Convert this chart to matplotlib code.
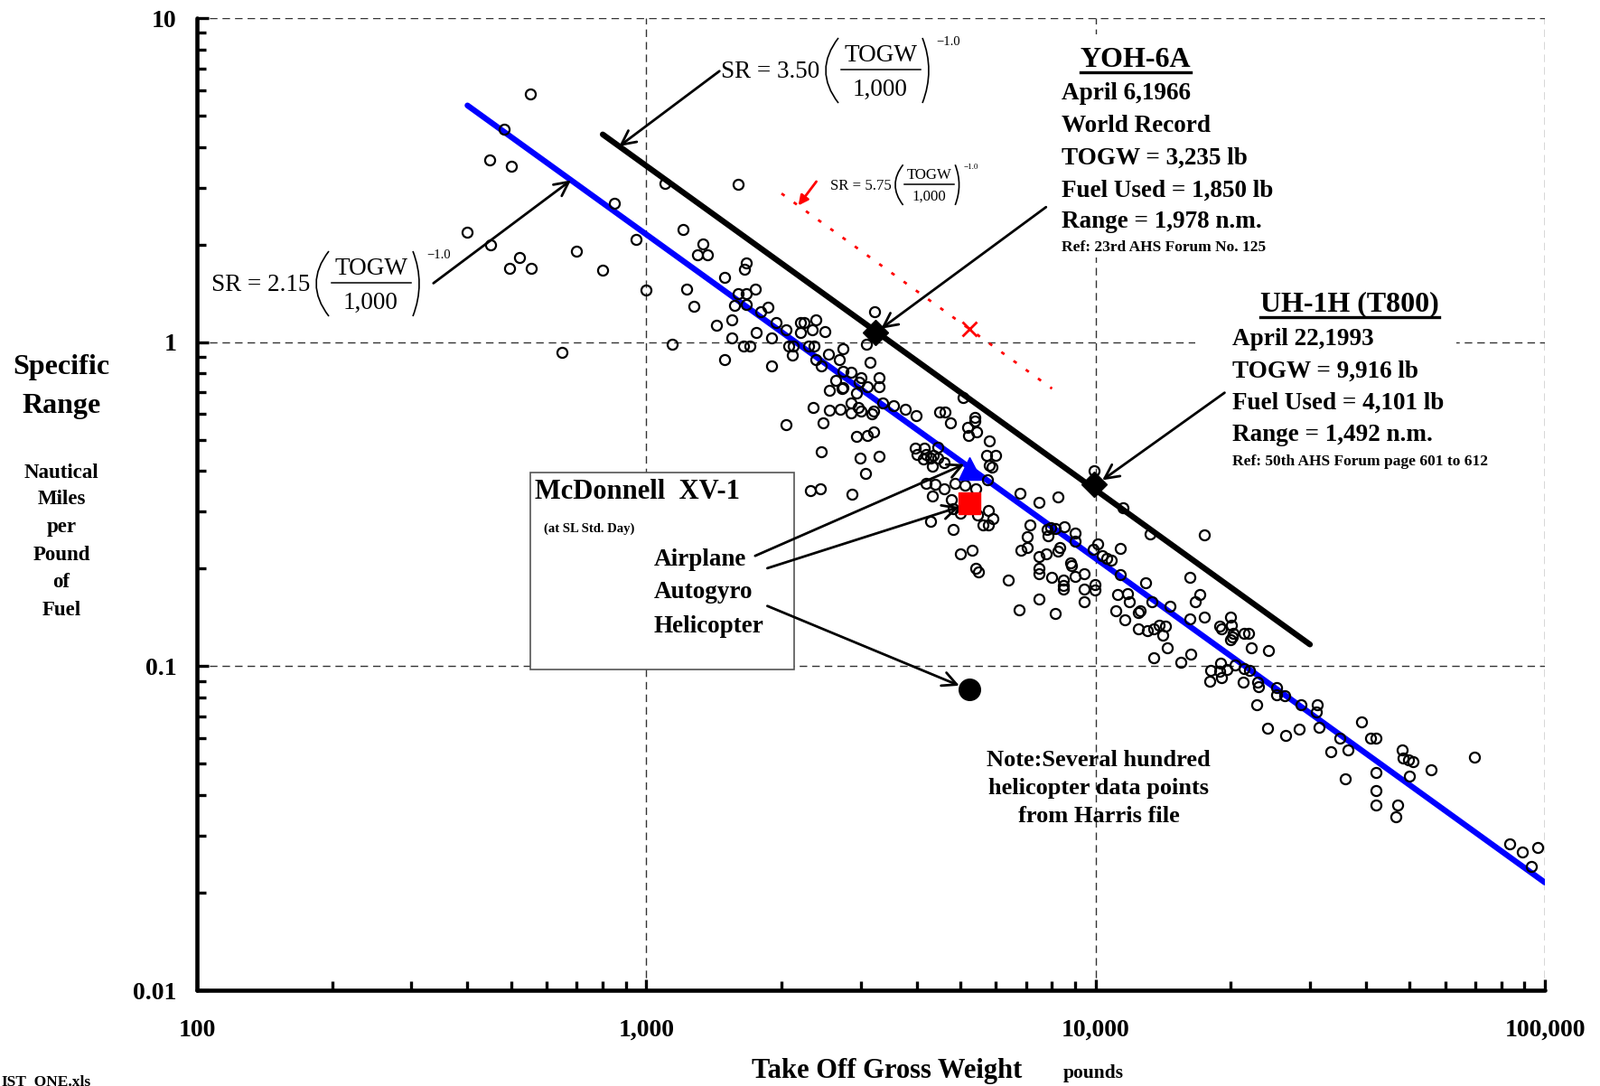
import numpy as np
import matplotlib
matplotlib.use("Agg")
import matplotlib.pyplot as plt
from matplotlib.ticker import LogLocator, NullFormatter
from matplotlib.patches import Rectangle, PathPatch
from matplotlib.path import Path
from matplotlib.lines import Line2D

plt.rcParams['font.family'] = ['Liberation Serif', 'DejaVu Serif']

# Harris file helicopter data: take off gross weight (lb), specific range (n.m./lb)
heli_togw = [553, 482, 449, 500, 1100, 1600, 849, 400, 451, 1208,
             949, 1339, 1298, 1371, 700, 521, 496, 555, 800, 1667,
             1656, 1496, 1000, 1230, 1278, 1600, 1670, 1749, 1574, 1670,
             1795, 1866, 1550, 1432, 1949, 2046, 2204, 2246, 2387, 2200,
             2344, 1754, 1550, 1901, 1144, 1648, 1700, 2078, 2127, 2117,
             2299, 2358, 649, 1496, 1900, 2387, 3225, 2502, 3094, 2743,
             2547, 2693, 2455, 3144, 2743, 2852, 3009, 3302, 2640, 2743,
             2973, 3105, 3302, 2553, 2723, 2942, 3354, 3556, 3765, 3986,
             2350, 2559, 2703, 2852, 2852, 2965, 3009, 3203, 3178, 2046,
             2472, 2942, 3105, 3203, 2455, 2991, 3302, 3079, 2322, 2444,
             2865, 5073, 4498, 4617, 4747, 5395, 5380, 5191, 5428, 5207,
             5802, 5712, 5984, 5802, 5890, 5739, 6799, 4463, 3963, 4150,
             4006, 4197, 4295, 4360, 4463, 4603, 4325, 4131, 4197, 4393,
             4603, 4857, 5126, 4341, 5411, 4784, 4817, 5012, 5781, 5916,
             5623, 5760, 5453, 4295, 4827, 5012, 5311, 5411, 5495, 7482,
             8238, 7145, 7038, 6821, 7056, 7812, 7958, 8128, 7836, 8531,
             9008, 9008, 7482, 7776, 8238, 8337, 8800, 8850, 7482, 7482,
             7987, 8470, 8470, 8490, 9008, 9433, 9433, 9433, 9960, 9960,
             6383, 7482, 6761, 8128, 10110, 9880, 10340, 10590, 10840, 11350,
             11350, 11490, 9910, 13200, 17480, 11180, 11800, 11890, 11090, 11620,
             12450, 12940, 13350, 12550, 12450, 13050, 13450, 13880, 14310, 14090,
             14420, 14640, 16190, 17090, 16700, 16190, 17480, 18890, 19940, 20090,
             20250, 19940, 21370, 21880, 22220, 19040, 20180, 24290, 13450, 15460,
             16320, 18980, 18040, 18890, 19630, 19040, 17980, 20400, 21370, 22040,
             21300, 22910, 23090, 22810, 25320, 26330, 28660, 31190, 30960, 31440,
             24180, 26450, 28430, 34990, 36390, 33430, 39140, 40880, 42020, 42020,
             36010, 42020, 41990, 46980, 46610, 48080, 48280, 49770, 50930, 49930,
             55900, 69600, 83500, 89130, 96250, 93330, 25320]
heli_sr = [5.84, 4.54, 3.65, 3.50, 3.09, 3.07, 2.69, 2.19, 1.99, 2.23,
           2.07, 2.01, 1.86, 1.86, 1.91, 1.83, 1.69, 1.69, 1.67, 1.75,
           1.68, 1.58, 1.45, 1.46, 1.29, 1.41, 1.41, 1.46, 1.30, 1.31,
           1.24, 1.28, 1.17, 1.13, 1.15, 1.09, 1.15, 1.15, 1.17, 1.07,
           1.09, 1.07, 1.03, 1.03, 0.987, 0.972, 0.97, 0.972, 0.972, 0.912,
           0.972, 0.972, 0.931, 0.883, 0.846, 0.883, 1.24, 1.075, 0.983, 0.952,
           0.916, 0.883, 0.846, 0.864, 0.810, 0.805, 0.776, 0.776, 0.760, 0.724,
           0.752, 0.728, 0.728, 0.708, 0.721, 0.698, 0.650, 0.638, 0.621, 0.594,
           0.630, 0.617, 0.622, 0.648, 0.603, 0.627, 0.614, 0.614, 0.601, 0.555,
           0.564, 0.512, 0.515, 0.528, 0.460, 0.4375, 0.445, 0.394, 0.348, 0.352,
           0.340, 0.673, 0.610, 0.610, 0.565, 0.585, 0.569, 0.546, 0.528, 0.515,
           0.496, 0.448, 0.448, 0.417, 0.411, 0.375, 0.342, 0.475, 0.470, 0.470,
           0.450, 0.450, 0.440, 0.448, 0.440, 0.424, 0.415, 0.436, 0.367, 0.365,
           0.352, 0.367, 0.363, 0.335, 0.352, 0.326, 0.306, 0.296, 0.303, 0.286,
           0.272, 0.272, 0.293, 0.280, 0.265, 0.222, 0.228, 0.200, 0.196, 0.320,
           0.332, 0.272, 0.251, 0.228, 0.233, 0.264, 0.268, 0.266, 0.252, 0.269,
           0.258, 0.243, 0.218, 0.222, 0.227, 0.232, 0.208, 0.204, 0.200, 0.193,
           0.188, 0.185, 0.177, 0.173, 0.189, 0.193, 0.173, 0.158, 0.179, 0.172,
           0.184, 0.161, 0.149, 0.145, 0.239, 0.229, 0.220, 0.215, 0.213, 0.231,
           0.192, 0.309, 0.400, 0.256, 0.255, 0.166, 0.168, 0.158, 0.148, 0.139,
           0.146, 0.181, 0.158, 0.148, 0.130, 0.129, 0.130, 0.134, 0.133, 0.125,
           0.114, 0.153, 0.188, 0.166, 0.158, 0.140, 0.142, 0.133, 0.142, 0.134,
           0.126, 0.121, 0.126, 0.126, 0.114, 0.130, 0.123, 0.112, 0.106, 0.103,
           0.109, 0.102, 0.0968, 0.0964, 0.0974, 0.0923, 0.0898, 0.101, 0.0985, 0.0968,
           0.0894, 0.0894, 0.0866, 0.0758, 0.0857, 0.0809, 0.0758, 0.0761, 0.0722, 0.0649,
           0.0642, 0.0612, 0.0639, 0.0601, 0.0553, 0.0544, 0.0674, 0.0601, 0.0601, 0.0470,
           0.0448, 0.0414, 0.0373, 0.0373, 0.0343, 0.0553, 0.0520, 0.0513, 0.0507, 0.0458,
           0.0479, 0.0524, 0.0283, 0.0267, 0.0275, 0.0241, 0.0818]

# trend lines SR = k * (TOGW/1000)^-1.0
fit_k = [2.15, 3.50, 5.75]
fit_lo = [400, 800, 2000]
fit_hi = [100000, 30000, 8000]

# record flights (YOH-6A, UH-1H T800)
rec_togw = [3235, 9916]
rec_fuel = [1850, 4101]
rec_range = [1978, 1492]

# McDonnell XV-1 at SL std day
xv1_togw = 5250
xv1_sr = [0.408, 0.319, 0.0848]   # airplane, autogyro, helicopter

yoh_lines = ['April 6,1966', 'World Record', 'TOGW = 3,235 lb',
             'Fuel Used = 1,850 lb', 'Range = 1,978 n.m.']
uh_lines = ['April 22,1993', 'TOGW = 9,916 lb', 'Fuel Used = 4,101 lb',
            'Range = 1,492 n.m.']
note_lines = ['Note:Several hundred', 'helicopter data points', 'from Harris file']


def axpos(xf, yf):
    # full-size picture pixels -> axes fraction
    return (xf - 218) / 1492, (1096 - yf) / 1076


def figpos(xf, yf):
    # full-size picture pixels -> figure fraction
    return xf / 1771, 1 - yf / 1202


fig = plt.figure(figsize=(17.71, 12.02), dpi=100)
ax = fig.add_axes([218 / 1771, 1 - 1096 / 1202, 1492 / 1771, 1076 / 1202])
ax.set_xscale('log')
ax.set_yscale('log')
ax.set_xlim(100, 100000)
ax.set_ylim(0.01, 10)

for s in ['top', 'right']:
    ax.spines[s].set_visible(False)
for s in ['left', 'bottom']:
    ax.spines[s].set_linewidth(3.3)
    ax.spines[s].set_capstyle('round')

ax.set_axisbelow(True)
ax.grid(True, which='major', color='#333333', linestyle=(0, (6, 4)), linewidth=1.0)

ax.set_xticks([100, 1000, 10000, 100000])
ax.set_xticklabels(['100', '1,000', '10,000', '100,000'])
ax.set_yticks([0.01, 0.1, 1, 10])
ax.set_yticklabels(['0.01', '0.1', '1', '10'])
ax.xaxis.set_minor_locator(LogLocator(base=10, subs=np.arange(2, 10)))
ax.yaxis.set_minor_locator(LogLocator(base=10, subs=np.arange(2, 10)))
ax.xaxis.set_minor_formatter(NullFormatter())
ax.yaxis.set_minor_formatter(NullFormatter())
ax.tick_params(which='both', direction='in', width=2.4, color='black')
ax.tick_params(which='major', length=9)
ax.tick_params(which='minor', length=7)
ax.tick_params(axis='x', which='major', pad=23, labelsize=20)
ax.tick_params(axis='y', which='major', pad=16, labelsize=20)
for lab in ax.get_xticklabels() + ax.get_yticklabels():
    lab.set_fontweight('bold')

# trend lines
styles = [dict(color='#0000ff', lw=4.6, solid_capstyle='round'),
          dict(color='black', lw=4.6, solid_capstyle='round'),
          dict(color='#ff0000', lw=2.0, linestyle=(0, (1.5, 4.5)))]
for k, lo, hi, st in zip(fit_k, fit_lo, fit_hi, styles):
    xx = np.array([lo, hi], dtype=float)
    ax.plot(xx, k / (xx / 1000.0), zorder=3, **st)

# helicopter data
ax.plot(heli_togw, heli_sr, 'o', mfc='none', mec='black', ms=8, mew=1.6, zorder=4)

# record points
rec_sr = [r / f for r, f in zip(rec_range, rec_fuel)]
ax.plot(rec_togw, rec_sr, 'D', color='black', ms=14, zorder=5)

# XV-1 points
ax.plot(xv1_togw, 5.75 / (xv1_togw / 1000.0), 'x', color='#ff0000', ms=11, mew=2, zorder=5)
ax.plot(xv1_togw, xv1_sr[0], '^', color='#0000ff', ms=18, zorder=6)
ax.plot(xv1_togw, xv1_sr[1], 's', color='#ff0000', ms=17, zorder=6)
ax.plot(xv1_togw, xv1_sr[2], 'o', color='black', ms=17, zorder=6)

# white panels behind the record text blocks and the XV-1 box
x0, y1 = axpos(1170, 38)
x1, y0 = axpos(1420, 285)
ax.add_patch(Rectangle((x0, y0), x1 - x0, y1 - y0, transform=ax.transAxes,
                       facecolor='white', edgecolor='none', zorder=1))
x0, y1 = axpos(1323, 318)
x1, y0 = axpos(1612, 520)
ax.add_patch(Rectangle((x0, y0), x1 - x0, y1 - y0, transform=ax.transAxes,
                       facecolor='white', edgecolor='none', zorder=1))
x0, y1 = axpos(587, 523)
x1, y0 = axpos(879, 741)
ax.add_patch(Rectangle((x0, y0), x1 - x0, y1 - y0, transform=ax.transAxes,
                       facecolor='white', edgecolor='#555555', lw=1.2, zorder=2))


def paren(xl, yt, yb, w, right=False):
    # thin curved bracket drawn as a quadratic curve
    if right:
        pts = [figpos(xl, yt), figpos(xl + 2 * w, (yt + yb) / 2), figpos(xl, yb)]
    else:
        pts = [figpos(xl + w, yt), figpos(xl - w, (yt + yb) / 2), figpos(xl + w, yb)]
    p = Path(pts, [Path.MOVETO, Path.CURVE3, Path.CURVE3])
    fig.add_artist(PathPatch(p, facecolor='none', edgecolor='black', lw=1.2,
                             transform=fig.transFigure))


def formula(L, B, coef, s):
    # SR = coef (TOGW / 1,000)^-1.0, laid out around the fraction bar at y=B
    fig.text(*figpos(L, B + 9 * s), 'SR = ' + coef, fontsize=19.5 * s, ha='left', va='baseline')
    paren(L + 116 * s, B - 35 * s, B + 37 * s, 14 * s)
    fig.text(*figpos(L + 177 * s, B - 9 * s), 'TOGW', fontsize=19.5 * s, ha='center', va='baseline')
    a0 = figpos(L + 133 * s, B)
    a1 = figpos(L + 221 * s, B)
    fig.add_artist(Line2D([a0[0], a1[0]], [a0[1], a1[1]], color='black', lw=1.1,
                          transform=fig.transFigure))
    fig.text(*figpos(L + 176 * s, B + 29 * s), '1,000', fontsize=19.5 * s, ha='center', va='baseline')
    paren(L + 223 * s, B - 35 * s, B + 37 * s, 7 * s, right=True)
    fig.text(*figpos(L + 238 * s, B - 31 * s), '\u22121.0', fontsize=10.5 * s, ha='left', va='center')


formula(234, 313, '2.15', 1.0)
formula(798, 77, '3.50', 1.0)
formula(919, 204, '5.75', 0.62)

arrow_k = dict(arrowstyle='->', color='black', lw=2.0, mutation_scale=28, shrinkA=0, shrinkB=0)
ax.annotate('', xy=(680, 3.16), xytext=(336, 1.52), arrowprops=arrow_k, zorder=7)
ax.annotate('', xy=(870, 4.02), xytext=(1455, 6.86), arrowprops=arrow_k, zorder=7)
ax.annotate('', xy=(2180, 2.64), xytext=(2391, 3.13),
            arrowprops=dict(arrowstyle='-|>', color='#ff0000', lw=2.0, mutation_scale=16,
                            shrinkA=0, shrinkB=0), zorder=7)
ax.annotate('', xy=(3330, 1.10), xytext=(7757, 2.61), arrowprops=arrow_k, zorder=7)
ax.annotate('', xy=(10350, 0.375), xytext=(19370, 0.698), arrowprops=arrow_k, zorder=7)
ax.annotate('', xy=(5105, 0.420), xytext=(1747, 0.219), arrowprops=arrow_k, zorder=7)
ax.annotate('', xy=(4974, 0.310), xytext=(1860, 0.2006), arrowprops=arrow_k, zorder=7)
ax.annotate('', xy=(4974, 0.0871), xytext=(1860, 0.1534), arrowprops=arrow_k, zorder=7)

# record text blocks
t_yoh = ax.text(*axpos(1257, 66), 'YOH-6A', transform=ax.transAxes, fontsize=23,
                fontweight='bold', ha='center', va='center', zorder=8)
for line, yf in zip(yoh_lines, [104, 139, 175, 211, 246]):
    ax.text(*axpos(1175, yf), line, transform=ax.transAxes, fontsize=19.5,
            fontweight='bold', ha='left', va='center', zorder=8)
ax.text(*axpos(1175, 274), 'Ref: 23rd AHS Forum No. 125', transform=ax.transAxes,
        fontsize=12.5, fontweight='bold', ha='left', va='center', zorder=8)

t_uh = ax.text(*axpos(1494, 337), 'UH-1H (T800)', transform=ax.transAxes, fontsize=23,
               fontweight='bold', ha='center', va='center', zorder=8)
for line, yf in zip(uh_lines, [375, 411, 446, 482]):
    ax.text(*axpos(1364, yf), line, transform=ax.transAxes, fontsize=19.5,
            fontweight='bold', ha='left', va='center', zorder=8)
ax.text(*axpos(1364, 511), 'Ref: 50th AHS Forum page 601 to 612', transform=ax.transAxes,
        fontsize=12.5, fontweight='bold', ha='left', va='center', zorder=8)

# XV-1 box text
ax.text(*axpos(592, 545), 'McDonnell  XV-1', transform=ax.transAxes, fontsize=22,
        fontweight='bold', ha='left', va='center', zorder=8)
ax.text(*axpos(602, 585), '(at SL Std. Day)', transform=ax.transAxes, fontsize=10.5,
        fontweight='bold', ha='left', va='center', zorder=8)
for line, yf in zip(['Airplane', 'Autogyro', 'Helicopter'], [620, 655, 694]):
    ax.text(*axpos(724, yf), line, transform=ax.transAxes, fontsize=19.5,
            fontweight='bold', ha='left', va='center', zorder=8)

for line, yf in zip(note_lines, [842, 873, 903]):
    ax.text(*axpos(1216, yf), line, transform=ax.transAxes, fontsize=19,
            fontweight='bold', ha='center', va='center', zorder=8)

# axis titles
fig.text(*figpos(68, 407), 'Specific', fontsize=23, fontweight='bold', ha='center', va='center')
fig.text(*figpos(68, 449), 'Range', fontsize=23, fontweight='bold', ha='center', va='center')
for line, yf in zip(['Nautical', 'Miles', 'per', 'Pound', 'of', 'Fuel'],
                    [523, 553, 584, 614, 645, 676]):
    fig.text(*figpos(68, yf), line, fontsize=16.5, fontweight='bold',
             ha='center', va='center')
fig.text(*figpos(832, 1193), 'Take Off Gross Weight', fontsize=22,
         fontweight='bold', ha='left', va='baseline')
fig.text(*figpos(1177, 1193), 'pounds', fontsize=15.5, fontweight='bold',
         ha='left', va='baseline')
fig.text(*figpos(1, 1189), 'IST_ONE.xls', fontsize=12.5, fontweight='bold',
         ha='left', va='top')

# underline the two aircraft titles
fig.canvas.draw()
inv = fig.transFigure.inverted()
for t in [t_yoh, t_uh]:
    bb = t.get_window_extent()
    (a0, b0) = inv.transform((bb.x0, bb.y0 + 1))
    (a1, b1) = inv.transform((bb.x1, bb.y0 + 1))
    fig.add_artist(Line2D([a0, a1], [b0, b1], color='black', lw=2.4, transform=fig.transFigure))

fig.savefig('out.png', dpi=100)
